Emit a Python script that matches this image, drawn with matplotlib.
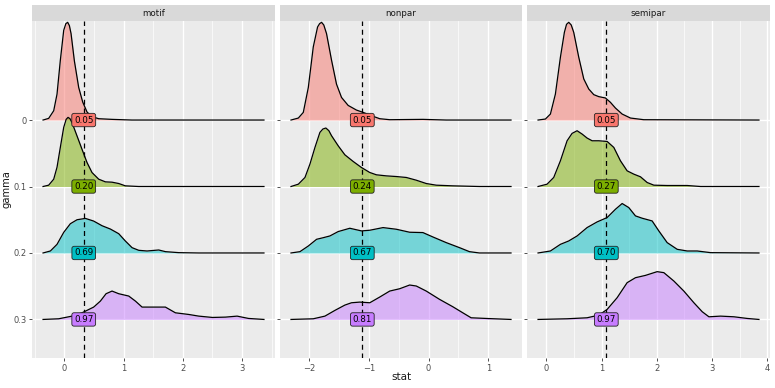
import numpy as np
import matplotlib
matplotlib.use("Agg")
import matplotlib.pyplot as plt

# facets, gamma levels and ggplot hue colours
panels = ["motif", "nonpar", "semipar"]
gamma_labels = ["0", "0.1", "0.2", "0.3"]
colors = ["#F8766D", "#7CAE00", "#00BFC4", "#C77CFF"]

# density ridges: x positions and ridge heights (in row units)
motif_x = [
    [-0.36, -0.265, -0.18, -0.124, -0.068, -0.011, 0.025, 0.056, 0.085, 0.113, 0.169, 0.242, 0.31, 0.383, 0.467, 0.58, 0.805, 1.14, 3.37],
    [-0.36, -0.265, -0.18, -0.124, -0.068, -0.011, 0.03, 0.062, 0.095, 0.13, 0.214, 0.298, 0.383, 0.467, 0.58, 0.693, 0.805, 0.918, 1.03, 1.256, 3.37],
    [-0.36, -0.236, -0.124, -0.011, 0.101, 0.214, 0.355, 0.495, 0.636, 0.777, 0.918, 1.03, 1.143, 1.256, 1.396, 1.593, 1.706, 1.93, 2.27, 3.37],
    [-0.36, -0.096, 0.13, 0.298, 0.495, 0.608, 0.704, 0.805, 0.918, 1.087, 1.2, 1.312, 1.48, 1.706, 1.875, 2.1, 2.27, 2.5, 2.72, 2.917, 3.11, 3.37],
]
motif_h = [
    [0, 0.025, 0.14, 0.39, 0.9, 1.35, 1.45, 1.47, 1.42, 1.3, 0.89, 0.49, 0.27, 0.12, 0.05, 0.02, 0.01, 0, 0],
    [0, 0.02, 0.11, 0.29, 0.59, 0.89, 1.01, 1.04, 1.02, 0.96, 0.76, 0.56, 0.36, 0.21, 0.11, 0.07, 0.065, 0.045, 0.01, 0, 0],
    [0, 0.03, 0.13, 0.31, 0.44, 0.5, 0.52, 0.48, 0.41, 0.36, 0.29, 0.18, 0.08, 0.04, 0.03, 0.045, 0.02, 0.005, 0, 0],
    [0, 0.01, 0.05, 0.1, 0.186, 0.276, 0.387, 0.427, 0.387, 0.352, 0.276, 0.186, 0.186, 0.186, 0.1, 0.075, 0.05, 0.03, 0.035, 0.05, 0.015, 0],
]

nonpar_x = [
    [-2.304, -2.181, -2.098, -2.014, -1.931, -1.859, -1.825, -1.792, -1.755, -1.709, -1.625, -1.542, -1.458, -1.347, -1.208, -1.096, -0.957, -0.818, -0.651, -0.095, 0.295, 1.38],
    [-2.304, -2.181, -2.07, -1.987, -1.903, -1.82, -1.77, -1.72, -1.67, -1.625, -1.514, -1.402, -1.263, -1.124, -0.985, -0.874, -0.707, -0.54, -0.373, -0.206, -0.039, 0.128, 0.406, 0.851, 1.38],
    [-2.304, -2.154, -2.014, -1.875, -1.764, -1.653, -1.514, -1.319, -1.124, -0.985, -0.762, -0.54, -0.317, -0.095, 0.072, 0.295, 0.518, 0.684, 0.851, 1.38],
    [-2.304, -1.931, -1.736, -1.569, -1.402, -1.291, -1.152, -0.985, -0.818, -0.651, -0.484, -0.317, -0.206, -0.039, 0.184, 0.406, 0.573, 0.712, 0.963, 1.38],
]
nonpar_h = [
    [0, 0.03, 0.115, 0.49, 1.1, 1.4, 1.45, 1.47, 1.43, 1.3, 0.9, 0.54, 0.34, 0.22, 0.15, 0.115, 0.065, 0.02, 0.005, 0.01, 0, 0],
    [0, 0.035, 0.136, 0.337, 0.588, 0.814, 0.865, 0.88, 0.84, 0.764, 0.613, 0.477, 0.377, 0.286, 0.211, 0.176, 0.16, 0.15, 0.136, 0.095, 0.045, 0.02, 0.01, 0, 0],
    [0, 0.02, 0.105, 0.206, 0.23, 0.256, 0.322, 0.372, 0.332, 0.342, 0.382, 0.357, 0.312, 0.307, 0.241, 0.156, 0.08, 0.02, 0, 0],
    [0, 0.01, 0.05, 0.136, 0.216, 0.251, 0.261, 0.251, 0.337, 0.427, 0.462, 0.518, 0.503, 0.427, 0.302, 0.191, 0.1, 0.025, 0.015, 0],
]

semipar_x = [
    [-0.151, -0.018, 0.073, 0.163, 0.254, 0.326, 0.365, 0.405, 0.45, 0.495, 0.586, 0.677, 0.767, 0.858, 0.949, 1.069, 1.16, 1.251, 1.372, 1.523, 1.764, 3.849],
    [-0.151, 0.012, 0.133, 0.254, 0.375, 0.465, 0.556, 0.647, 0.737, 0.828, 0.949, 1.1, 1.221, 1.341, 1.462, 1.583, 1.704, 1.825, 1.946, 2.187, 2.55, 2.792, 3.849],
    [-0.151, 0.073, 0.254, 0.405, 0.556, 0.737, 0.918, 1.1, 1.251, 1.372, 1.492, 1.613, 1.734, 1.915, 2.036, 2.187, 2.369, 2.55, 2.731, 2.973, 3.849],
    [-0.151, 0.375, 0.737, 0.949, 1.1, 1.281, 1.462, 1.613, 1.795, 2.006, 2.127, 2.308, 2.489, 2.671, 2.822, 2.943, 3.154, 3.396, 3.637, 3.849],
]
semipar_h = [
    [0, 0.015, 0.09, 0.39, 0.945, 1.32, 1.44, 1.47, 1.43, 1.32, 0.945, 0.618, 0.467, 0.382, 0.352, 0.332, 0.266, 0.18, 0.09, 0.03, 0.005, 0],
    [0, 0.035, 0.136, 0.387, 0.688, 0.799, 0.839, 0.789, 0.729, 0.688, 0.688, 0.678, 0.588, 0.387, 0.236, 0.186, 0.146, 0.06, 0.02, 0.015, 0.015, 0, 0],
    [0, 0.03, 0.13, 0.181, 0.256, 0.382, 0.467, 0.533, 0.658, 0.744, 0.683, 0.558, 0.523, 0.482, 0.332, 0.156, 0.055, 0.03, 0.03, 0.005, 0],
    [0, 0.01, 0.025, 0.065, 0.151, 0.327, 0.553, 0.628, 0.663, 0.719, 0.704, 0.578, 0.427, 0.251, 0.116, 0.04, 0.05, 0.04, 0.015, 0],
]

# dashed reference line and the label values at it
ref_x = [0.327, -1.11, 1.085]
motif_lab = ["0.05", "0.20", "0.69", "0.97"]
nonpar_lab = ["0.05", "0.24", "0.67", "0.81"]
semipar_lab = ["0.05", "0.27", "0.70", "0.97"]

xticks = [[0, 1, 2, 3], [-2, -1, 0, 1], [0, 1, 2, 3, 4]]
xminor = [[-0.5, 0.5, 1.5, 2.5, 3.5], [-1.5, -0.5, 0.5], [0.5, 1.5, 2.5, 3.5]]
xtick_labels = [["0", "1", "2", "3"], ["\u22122", "\u22121", "0", "1"], ["0", "1", "2", "3", "4"]]

all_x = [motif_x, nonpar_x, semipar_x]
all_h = [motif_h, nonpar_h, semipar_h]
all_lab = [motif_lab, nonpar_lab, semipar_lab]

W, H = 775, 388
fig = plt.figure(figsize=(W / 100, H / 100), dpi=100)
panel_px = [(32, 275), (280, 522), (527, 770)]
top_px, bot_px, strip_top = 21, 358, 5

for p, name in enumerate(panels):
    x0, x1 = panel_px[p]
    ax = fig.add_axes([x0 / W, 1 - bot_px / H, (x1 - x0) / W, (bot_px - top_px) / H])
    ax.set_facecolor("#EBEBEB")
    for s in ax.spines.values():
        s.set_visible(False)

    for k in range(4):
        xs = np.array(all_x[p][k])
        hs = np.array(all_h[p][k])
        ax.fill_between(xs, k - hs, k, color=colors[k], alpha=0.5, lw=0, zorder=3 + 2 * k)
        ax.plot(xs, k - hs, color="black", lw=0.9, zorder=4 + 2 * k,
                solid_joinstyle="round")

    ax.axvline(ref_x[p], color="black", ls=(0, (4, 3)), lw=0.9, zorder=20)
    for k in range(4):
        ax.text(ref_x[p], k, all_lab[p][k], fontsize=6.3, color="black",
                ha="center", va="center", zorder=22,
                bbox=dict(boxstyle="round,pad=0.25,rounding_size=0.25",
                          fc=colors[k], ec="#222222", lw=0.6))

    ax.set_ylim(3.58, -1.49)
    ax.set_xmargin(0.05)
    ax.set_xticks(xticks[p])
    ax.set_xticklabels(xtick_labels[p])
    ax.set_xticks(xminor[p], minor=True)
    ax.set_yticks(range(4))
    if p == 0:
        ax.set_yticklabels(gamma_labels)
    else:
        ax.set_yticklabels([])
        ax.tick_params(axis="y", length=0)
    ax.grid(which="major", color="white", lw=1.0, zorder=0)
    ax.grid(which="minor", axis="x", color="white", lw=0.5, zorder=0)
    ax.set_axisbelow(True)
    ax.tick_params(which="major", labelsize=6.0, labelcolor="#4D4D4D", color="#333333",
                   length=2.5, width=0.6, pad=1.5)
    ax.tick_params(which="minor", length=0)

    # facet strip
    sax = fig.add_axes([x0 / W, 1 - top_px / H, (x1 - x0) / W, (top_px - strip_top) / H])
    sax.set_facecolor("#D9D9D9")
    sax.set_xticks([])
    sax.set_yticks([])
    for s in sax.spines.values():
        s.set_visible(False)
    sax.text(0.5, 0.5, name, ha="center", va="center", fontsize=6.3, color="#1A1A1A",
             transform=sax.transAxes)

fig.text((32 + 770) / 2 / W, 1 - 377 / H, "stat", ha="center", va="center",
         fontsize=7.5, color="#1A1A1A")
fig.text(7 / W, 1 - (top_px + bot_px) / 2 / H, "gamma", rotation=90, ha="center",
         va="center", fontsize=7.2, color="#1A1A1A")

fig.savefig("out.png", dpi=100)
